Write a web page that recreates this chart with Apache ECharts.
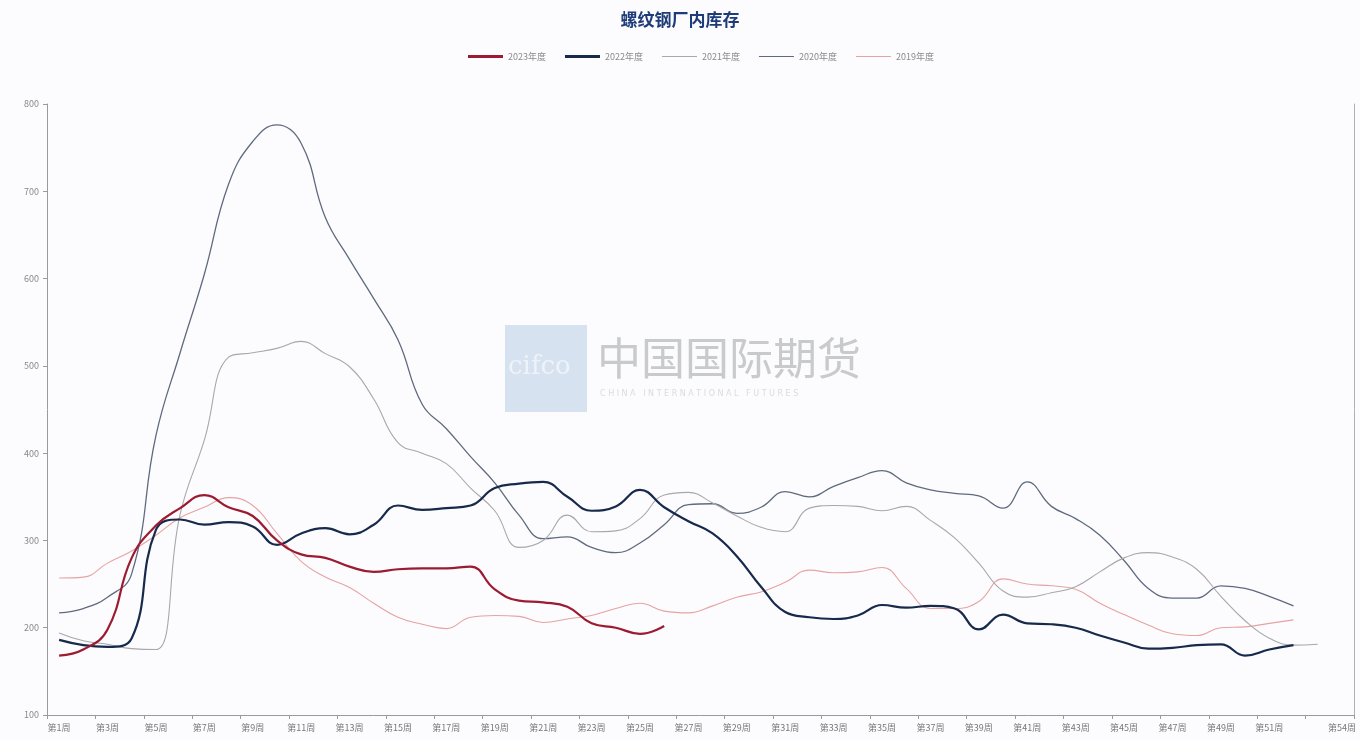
<!DOCTYPE html>
<html>
<head>
<meta charset="utf-8">
<script src="https://cdn.jsdelivr.net/npm/echarts@6/dist/echarts.min.js"></script>
<style>
html,body{margin:0;padding:0;background:#fcfcfe;}
#chart{width:1360px;height:740px;}
</style>
</head>
<body>
<div id="chart"></div>
<script>
var chartTitle = '螺纹钢厂内库存';
var weeks = ['第1周','第2周','第3周','第4周','第5周','第6周','第7周','第8周','第9周','第10周',
  '第11周','第12周','第13周','第14周','第15周','第16周','第17周','第18周','第19周','第20周',
  '第21周','第22周','第23周','第24周','第25周','第26周','第27周','第28周','第29周','第30周',
  '第31周','第32周','第33周','第34周','第35周','第36周','第37周','第38周','第39周','第40周',
  '第41周','第42周','第43周','第44周','第45周','第46周','第47周','第48周','第49周','第50周',
  '第51周','第52周','第53周','第54周'];
var seriesNames = ['2023年度','2022年度','2021年度','2020年度','2019年度'];

var y2023 = [168,175,198,280,317,337,352,338,328,300,284,280,270,264,267,268,268,270,244,231,229,224,205,200,193,202];
var y2022 = [186,180,178,188,312,324,318,321,316,295,308,314,307,318,340,335,337,340,360,365,367,350,334,339,358,338,322,308,282,247,218,212,210,214,226,223,225,222,198,215,205,204,200,191,183,176,177,180,181,168,175,180];
var y2021 = [194,185,181,176,175,330,415,510,515,520,528,514,499,462,412,400,388,360,334,292,300,329,310,311,325,352,355,343,328,315,310,337,340,339,334,339,323,303,274,242,235,240,247,264,280,286,281,267,236,208,188,180,181];
var y2020 = [217,222,235,262,420,515,605,708,757,776,755,670,622,577,530,456,428,396,366,329,302,304,292,286,297,318,341,342,331,338,356,350,362,372,380,366,358,354,351,337,367,339,325,306,277,245,234,234,248,245,236,225];
var y2019 = [257,258,274,288,306,326,338,349,340,308,276,258,246,228,212,204,199,212,214,213,206,210,214,222,228,219,217,225,235,241,252,266,263,264,269,245,222,222,230,256,250,248,244,228,215,203,193,191,200,201,205,209];

var yMin = 100, yMax = 800, yStep = 100;
var colors = ['#9c1b30','#172a4b','#a8a8aa','#5f6a7e','#e6a3a3'];
var widths = [2.2, 2.2, 1.1, 1.3, 1.1];
var thick = [true, true, false, false, false];
var allData = [y2023, y2022, y2021, y2020, y2019];

var chart = echarts.init(document.getElementById('chart'));
var font = '"Noto Sans CJK SC", "Noto Sans", sans-serif';

function showLabel(i){ return (i % 2 === 0 && i <= 50) || i === 53; }

var thickIcon = 'path://M0,0H36V3H0Z';
var thinIcon = 'path://M0,1H36V2H0Z M0,0H0.01V0.01H0Z M0,2.99H0.01V3H0Z';

var series = seriesNames.map(function(n, k){
  return {
    name: n, type: 'line', data: allData[k], smooth: 0.45, symbol: 'none',
    lineStyle: { color: colors[k], width: widths[k] },
    itemStyle: { color: colors[k] },
    z: 10 - k
  };
});

var legendData = seriesNames.map(function(n, k){
  return { name: n, icon: thick[k] ? thickIcon : thinIcon, itemStyle: { color: colors[k] } };
});

chart.setOption({
  backgroundColor: '#fcfcfe',
  animation: false,
  title: {
    text: chartTitle, left: 'center', top: 6,
    textStyle: { fontFamily: font, fontSize: 17, fontWeight: 'bold', color: '#1e3c78' }
  },
  legend: {
    top: 47, left: 463, itemWidth: 35, itemHeight: 3, itemGap: 19,
    textStyle: { fontFamily: font, fontSize: 9, color: '#8a8a8a' },
    data: legendData
  },
  graphic: [
    { type: 'rect', left: 505, top: 325, z: 0, shape: { width: 82, height: 87 }, style: { fill: '#d6e2f0' } },
    { type: 'text', left: 508, top: 354, z: 1, style: { text: 'cifco', fill: '#eef3fa', font: '26px "DejaVu Serif", serif' } },
    { type: 'text', left: 597, top: 336, z: 1, style: { text: '中国国际期货', fill: '#c9cace', font: '44px "Noto Sans CJK SC", sans-serif' } },
    { type: 'text', left: 600, top: 390, z: 1, style: { text: 'C H I N A   I N T E R N A T I O N A L   F U T U R E S', fill: '#dadbe0', font: '8px "DejaVu Sans", sans-serif' } }
  ],
  grid: { left: 47, right: 6, top: 104, bottom: 25, containLabel: false },
  xAxis: {
    type: 'category', data: weeks, boundaryGap: true,
    axisLine: { lineStyle: { color: '#9a9a9a', width: 1 } },
    axisTick: { show: true, interval: function(i){ return i % 2 === 0; }, length: 4, lineStyle: { color: '#9a9a9a' } },
    axisLabel: { interval: function(i){ return showLabel(i); }, fontFamily: font, fontSize: 9, color: '#777', margin: 8 },
    splitLine: { show: false }
  },
  yAxis: [{
    type: 'value', min: yMin, max: yMax, interval: yStep,
    axisLine: { show: true, lineStyle: { color: '#9a9a9a', width: 1 } },
    axisTick: { show: true, length: 4, lineStyle: { color: '#9a9a9a' } },
    axisLabel: { fontFamily: font, fontSize: 9, color: '#888', margin: 8 },
    splitLine: { show: false }
  }, {
    type: 'value', min: yMin, max: yMax, interval: yStep, position: 'right',
    axisLine: { show: true, lineStyle: { color: '#b0b0b0', width: 1 } },
    axisTick: { show: false }, axisLabel: { show: false }, splitLine: { show: false }
  }],
  series: series
});
</script>
</body>
</html>
